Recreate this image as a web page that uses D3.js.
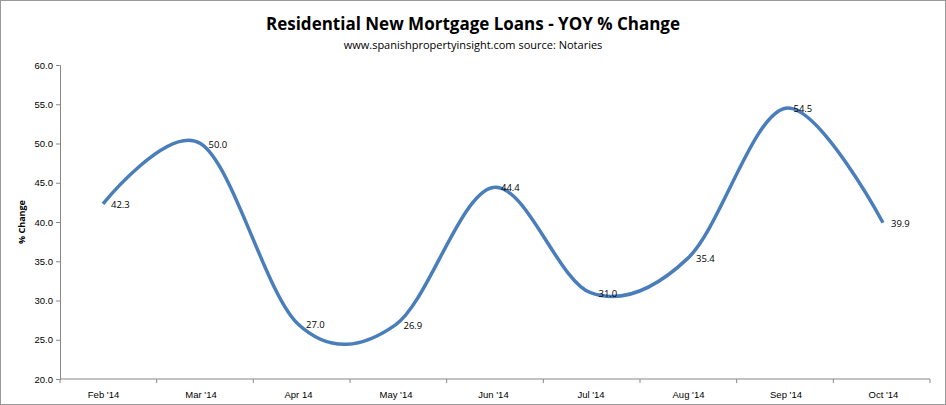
<!DOCTYPE html>
<html><head><meta charset="utf-8">
<script src="https://cdn.jsdelivr.net/npm/d3@7"></script>
<style>body{margin:0;background:#fff}svg{font-family:"Open Sans","Liberation Sans",sans-serif}</style>
</head><body><svg id="c" width="946" height="405"></svg>
<script>
const categories = ["Feb '14","Mar '14","Apr 14","May '14","Jun '14","Jul '14","Aug '14","Sep '14","Oct '14"];
const values = [42.3, 50.0, 27.0, 26.9, 44.4, 31.0, 35.4, 54.5, 39.9];
const yTicks = [20,25,30,35,40,45,50,55,60];

const svg = d3.select("#c");
svg.append("rect").attr("x",0.5).attr("y",0.5).attr("width",945).attr("height",404).attr("fill","#fff").attr("stroke","#999");
const x = d3.scalePoint().domain(categories).range([103,883]);
const y = d3.scaleLinear().domain([20,60]).range([379,65]);

const ya = svg.append("g").attr("transform","translate(60,0)")
  .call(d3.axisLeft(y).tickValues(yTicks).tickFormat(d3.format(".1f")).tickSize(4));
const xa = svg.append("g").attr("transform","translate(0,379)")
  .call(d3.axisBottom(x).tickSize(0).tickPadding(12));
xa.select(".domain").attr("d","M60,0H930");
[ya,xa].forEach(a=>{a.selectAll("path,line").attr("stroke","#888");a.selectAll("text").attr("font-size",9.5).attr("fill","#000").style("font-family","inherit");});
// x tick marks between categories
const step = x.step();
xa.selectAll(".sep").data(d3.range(10)).enter().append("line")
  .attr("x1",(d)=>60+d*(870/9)).attr("x2",(d)=>60+d*(870/9)).attr("y1",0).attr("y2",4).attr("stroke","#888");

const line = d3.line().x((d,i)=>x(categories[i])).y(d=>y(d)).curve(d3.curveCardinal.tension(0));
svg.append("path").datum(values).attr("d",line).attr("fill","none").attr("stroke","#4a7ebb").attr("stroke-width",3.5);

svg.selectAll(".lbl").data(values).enter().append("text")
  .attr("x",(d,i)=>x(categories[i])+8).attr("y",d=>y(d)+4)
  .attr("font-size",9.5).text(d=>d.toFixed(1));

svg.append("text").attr("x",473).attr("y",30).attr("text-anchor","middle").attr("font-size",17).attr("font-weight","bold").text("Residential New Mortgage Loans - YOY % Change");
svg.append("text").attr("x",473).attr("y",49).attr("text-anchor","middle").attr("font-size",11).text("www.spanishpropertyinsight.com source: Notaries");
svg.append("text").attr("transform","translate(25,222) rotate(-90)").attr("text-anchor","middle").attr("font-size",9).attr("font-weight","bold").text("% Change");
</script></body></html>
